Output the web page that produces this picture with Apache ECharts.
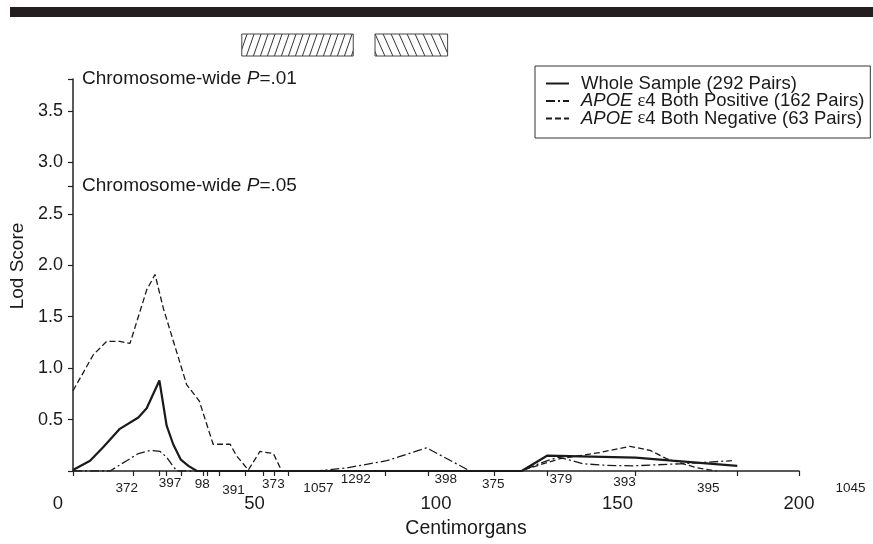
<!DOCTYPE html>
<html><head><meta charset="utf-8">
<script src="https://cdn.jsdelivr.net/npm/echarts@6/dist/echarts.min.js"></script>
<style>html,body{margin:0;padding:0;background:#fff;overflow:hidden}#c{width:873px;height:544px}</style>
</head><body><div id="c"></div>
<script>
// ---------------- data ----------------
const seriesNames = ['Whole Sample (292 Pairs)', 'APOE ε4 Both Positive (162 Pairs)', 'APOE ε4 Both Negative (63 Pairs)'];

const wholeCM  = [0, 4.7, 8.3, 11.1, 12.9, 18.0, 20.3, 23.8, 25.8, 27.6, 29.7, 31.8, 34.1, 123.6, 130.7, 155, 165, 183];
const wholeLOD = [0.01, 0.10, 0.23, 0.34, 0.41, 0.52, 0.61, 0.88, 0.44, 0.26, 0.11, 0.05, 0, 0, 0.15, 0.13, 0.10, 0.05];

const posCM  = [0, 10.2, 14.8, 18.0, 21.2, 24.0, 25.8, 27.3, 28.6, 67.1, 75.4, 86.4, 97.4, 109.4, 123.6, 129, 133.7, 140.6, 147, 154.3, 167.2, 181.5];
const posLOD = [0, 0, 0.10, 0.17, 0.20, 0.19, 0.135, 0.06, 0, 0, 0.03, 0.10, 0.225, 0, 0, 0.08, 0.135, 0.07, 0.055, 0.05, 0.07, 0.10];

const negCM  = [0, 5.6, 9.3, 12.9, 15.7, 20.3, 22.6, 24.9, 31.3, 34.8, 38.6, 43.3, 45, 48.3, 51.5, 55.2, 57.5, 123.1, 134.2, 145.2, 153.4, 159, 163.5, 166.3, 172, 177.3];
const negLOD = [0.78, 1.13, 1.26, 1.26, 1.24, 1.76, 1.91, 1.58, 0.84, 0.68, 0.26, 0.26, 0.15, 0.01, 0.19, 0.17, 0, 0, 0.12, 0.18, 0.24, 0.20, 0.12, 0.09, 0.03, 0];

const xTickLabels = [0, 50, 100, 150, 200];
const yTickLabels = [0.5, 1.0, 1.5, 2.0, 2.5, 3.0, 3.5];

const thresholdLOD = [3.81, 2.77];
const thresholdP = ['.01', '.05'];

const markerTickCM = [0, 16.6, 23.8, 25.8, 29.7, 35.9, 37.0, 40.3, 47.4, 52.3, 55.4, 59.4, 86.0, 97.9, 116.0, 130.7, 155.0, 183.0, 200];
const markerNames   = ['372', '397', '98', '391', '373', '1057', '1292', '398', '375', '379', '393', '395', '1045'];
const markerLabelCM = [14.8, 26.7, 35.6, 44.2, 55.2, 67.6, 77.9, 102.7, 115.8, 134.4, 151.9, 175.0, 214.2];

const regionStartCM = [46.5, 83.2];
const regionEndCM   = [77.2, 103.2];

// ---------------- styles ----------------
const FONT = '"Liberation Sans", Arial, Helvetica, sans-serif';
const INK = '#1a1a1a';
const markerLabelDy = [17.7, 12.7, 13, 19, 13, 17.7, 8.7, 8.7, 13.7, 8.7, 11.7, 17.7, 17.7];

function hatch(w, h, forward) {
  const c = document.createElement('canvas');
  c.width = w; c.height = h;
  const g = c.getContext('2d');
  g.strokeStyle = '#333'; g.lineWidth = 1;
  for (let k = -1; k <= 1; k++) {
    g.beginPath();
    if (forward) { g.moveTo(k * w, h); g.lineTo(k * w + w, 0); }
    else { g.moveTo(k * w, 0); g.lineTo(k * w + w, h); }
    g.stroke();
  }
  return c;
}
const patterns = [hatch(7, 20, true), hatch(8, 18, false)];

const pair = (xs, ys) => xs.map((x, i) => [x, ys[i]]);

const chart = echarts.init(document.getElementById('c'), null, {renderer: 'canvas', width: 873, height: 544});

const option = {
  backgroundColor: '#fff',
  animation: false,
  textStyle: {fontFamily: FONT, color: INK},
  graphic: [{
    type: 'rect', left: 10, top: 7, shape: {width: 863, height: 10},
    style: {fill: '#231f20'}
  }],
  legend: {
    left: 535, top: 66,
    orient: 'vertical',
    data: seriesNames,
    itemWidth: 23, itemHeight: 10, itemGap: -1.5,
    padding: [8, 6, 10, 10],
    borderColor: '#333', borderWidth: 1,
    itemStyle: {opacity: 0},
    textStyle: {
      fontFamily: FONT, fontSize: 18.5, color: INK, padding: [0, 0, 0, 7],
      rich: {
        t: {fontSize: 18.5, fontFamily: FONT, color: INK},
        i: {fontStyle: 'italic', fontSize: 18.5, fontFamily: FONT, color: INK},
        e: {fontSize: 18.5, fontFamily: '"Liberation Serif", "Times New Roman", serif', color: INK}
      }
    },
    formatter: n => n.indexOf('APOE') === 0
      ? '{i|APOE}{t| }{e|ε}{t|' + n.slice(6) + '}'
      : '{t|' + n + '}'
  },
  grid: [
    {left: 73, width: 726, top: 79, height: 395},
    {left: 73, width: 726, top: 34, height: 22}
  ],
  xAxis: [{
    type: 'value', gridIndex: 0, min: 0, max: 200,
    name: 'Centimorgans', nameLocation: 'middle', nameGap: 48,
    nameTextStyle: {fontSize: 19.5, color: INK, fontFamily: FONT, padding: [0, 0, 0, 60]},
    axisLine: {show: true, lineStyle: {color: '#222', width: 1.5}},
    axisTick: {show: true, length: 5, lineStyle: {color: '#222', width: 1.2}, customValues: markerTickCM},
    axisLabel: {
      fontSize: 18.5, color: INK, margin: 23, customValues: xTickLabels,
      formatter: v => v === 0 ? '{z|0}' : String(v),
      rich: {z: {fontSize: 18.5, color: INK, padding: [0, 30, 0, 0]}}
    },
    splitLine: {show: false}
  }, {
    type: 'value', gridIndex: 1, min: 0, max: 200, show: false
  }],
  yAxis: [{
    type: 'value', gridIndex: 0, min: 0, max: 3.81,
    name: 'Lod Score', nameLocation: 'middle', nameGap: 40, nameRotate: 90,
    nameTextStyle: {fontSize: 19, color: INK, fontFamily: FONT, padding: [0, 0, 0, 18]},
    axisLine: {show: true, lineStyle: {color: '#222', width: 1.5}},
    axisTick: {show: true, length: 5, lineStyle: {color: '#222', width: 1.2},
      customValues: [0].concat(yTickLabels, thresholdLOD)},
    axisLabel: {fontSize: 18, color: INK, margin: 10, customValues: yTickLabels,
      formatter: v => v.toFixed(1)},
    splitLine: {show: false}
  }, {
    type: 'value', gridIndex: 1, min: 0, max: 1, show: false
  }],
  series: [
    {
      name: seriesNames[2], type: 'line', data: pair(negCM, negLOD),
      symbol: 'none', z: 3,
      lineStyle: {color: INK, width: 1.3, type: [6, 3]},
      itemStyle: {color: INK}
    },
    {
      name: seriesNames[1], type: 'line', data: pair(posCM, posLOD),
      symbol: 'none', z: 4,
      lineStyle: {color: INK, width: 1.3, type: [9, 3, 2, 3]},
      itemStyle: {color: INK}
    },
    {
      name: seriesNames[0], type: 'line', data: pair(wholeCM, wholeLOD),
      symbol: 'none', z: 5,
      lineStyle: {color: INK, width: 2.2, type: 'solid'},
      itemStyle: {color: INK}
    },
    {
      type: 'custom', name: 'thresholds', silent: true, z: 6,
      data: thresholdLOD.map((v, i) => [0, v, i]),
      encode: {x: 0, y: 1},
      renderItem: (params, api) => {
        const p = api.coord([api.value(0), api.value(1)]);
        const i = api.value(2);
        return {
          type: 'text', x: p[0] + 9, y: p[1],
          style: {
            text: 'Chromosome-wide {i|P}=' + thresholdP[i],
            font: '19px ' + FONT, fill: INK, verticalAlign: 'middle', align: 'left',
            rich: {i: {fontStyle: 'italic', fontSize: 19, fontFamily: FONT, fill: INK}}
          }
        };
      }
    },
    {
      type: 'custom', name: 'markers', silent: true, z: 6,
      data: markerLabelCM.map((c, i) => [c, 0, i]),
      encode: {x: 0, y: 1},
      renderItem: (params, api) => {
        const p = api.coord([api.value(0), 0]);
        const i = api.value(2);
        return {
          type: 'text', x: p[0], y: p[1] + markerLabelDy[i],
          style: {text: markerNames[i], font: '13.5px ' + FONT, fill: INK, align: 'center', verticalAlign: 'middle'}
        };
      }
    },
    {
      type: 'custom', name: 'regions', silent: true, xAxisIndex: 1, yAxisIndex: 1,
      data: regionStartCM.map((s, i) => [s, regionEndCM[i], i]),
      encode: {x: [0, 1]},
      renderItem: (params, api) => {
        const a = api.coord([api.value(0), 1]);
        const b = api.coord([api.value(1), 0]);
        const i = api.value(2);
        return {
          type: 'rect',
          shape: {x: a[0], y: a[1], width: b[0] - a[0], height: b[1] - a[1]},
          style: {fill: {image: patterns[i], repeat: 'repeat'}, stroke: '#444', lineWidth: 1}
        };
      }
    }
  ]
};
chart.setOption(option);
</script>
</body></html>
